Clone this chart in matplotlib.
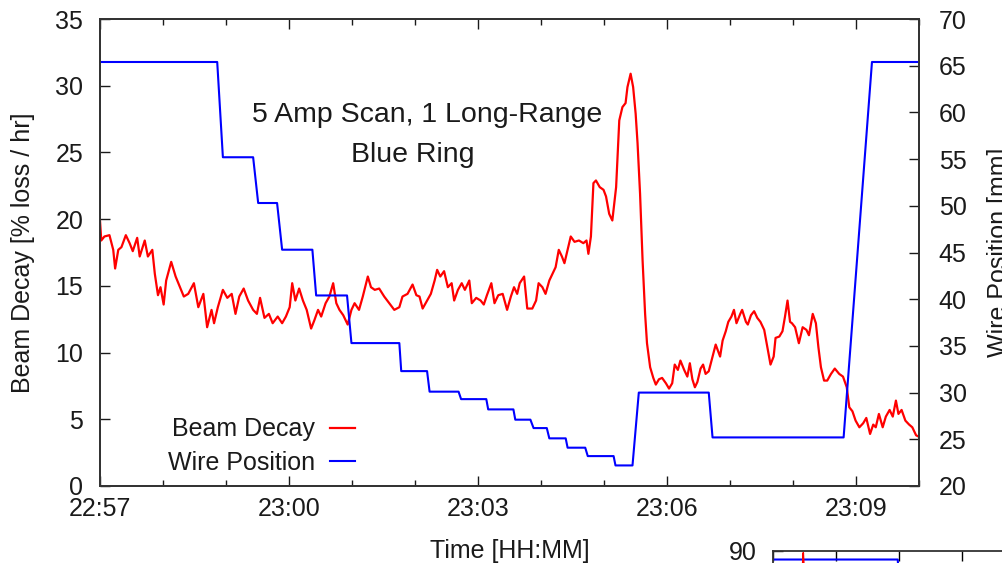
import matplotlib
matplotlib.use("Agg")
import matplotlib.pyplot as plt
from matplotlib.ticker import MultipleLocator, FuncFormatter, FixedLocator

plt.rcParams['font.family'] = ['Liberation Sans', 'DejaVu Sans']

# time in minutes after 22:57
decay_t = [0.00, 0.02, 0.07, 0.15, 0.21, 0.24, 0.29, 0.34, 0.41, 0.47, 0.52, 0.59, 0.63, 0.71, 0.76,
           0.83, 0.87, 0.92, 0.96, 1.01, 1.05, 1.13, 1.20, 1.27, 1.33, 1.40, 1.49, 1.56, 1.64, 1.70,
           1.77, 1.81, 1.87, 1.95, 2.02, 2.09, 2.15, 2.21, 2.28, 2.35, 2.43, 2.49, 2.54, 2.61, 2.68,
           2.74, 2.82, 2.89, 2.95, 3.01, 3.05, 3.10, 3.16, 3.22, 3.28, 3.35, 3.40, 3.46, 3.51, 3.58,
           3.64, 3.70, 3.75, 3.80, 3.86, 3.93, 3.99, 4.04, 4.11, 4.17, 4.25, 4.30, 4.36, 4.43, 4.51,
           4.59, 4.67, 4.75, 4.80, 4.88, 4.96, 5.02, 5.07, 5.12, 5.19, 5.25, 5.31, 5.35, 5.40, 5.46,
           5.52, 5.58, 5.62, 5.68, 5.74, 5.79, 5.86, 5.90, 5.97, 6.04, 6.09, 6.14, 6.21, 6.26, 6.32,
           6.39, 6.46, 6.52, 6.57, 6.62, 6.66, 6.73, 6.78, 6.86, 6.92, 6.96, 7.02, 7.07, 7.13, 7.18,
           7.23, 7.28, 7.33, 7.37, 7.42, 7.47, 7.53, 7.60, 7.67, 7.72, 7.75, 7.79, 7.83, 7.87, 7.93,
           7.99, 8.03, 8.08, 8.13, 8.19, 8.24, 8.29, 8.34, 8.37, 8.42, 8.46, 8.50, 8.53, 8.57, 8.61,
           8.65, 8.68, 8.73, 8.78, 8.82, 8.87, 8.92, 8.98, 9.03, 9.08, 9.12, 9.17, 9.21, 9.27, 9.32,
           9.36, 9.40, 9.44, 9.48, 9.53, 9.57, 9.61, 9.66, 9.72, 9.77, 9.84, 9.88, 9.93, 9.97, 10.02,
           10.06, 10.10, 10.16, 10.19, 10.25, 10.28, 10.33, 10.38, 10.43, 10.48, 10.54, 10.59, 10.64,
           10.69, 10.72, 10.78, 10.83, 10.87, 10.91, 10.95, 10.98, 11.03, 11.09, 11.15, 11.21, 11.25,
           11.31, 11.36, 11.40, 11.44, 11.49, 11.54, 11.60, 11.66, 11.73, 11.79, 11.85, 11.89, 11.94,
           11.99, 12.05, 12.11, 12.16, 12.22, 12.27, 12.31, 12.36, 12.42, 12.47, 12.53, 12.58, 12.63,
           12.67, 12.72, 12.78, 12.84, 12.89, 12.95, 12.99]
decay = [19.9, 18.4, 18.7, 18.8, 17.7, 16.3, 17.7, 17.9, 18.8, 18.2, 17.6, 18.6, 17.2, 18.4, 17.2,
         17.7, 15.9, 14.3, 14.9, 13.6, 15.4, 16.8, 15.7, 14.9, 14.2, 14.4, 15.2, 13.4, 14.4, 11.9,
         13.2, 12.2, 13.4, 14.7, 14.1, 14.4, 12.9, 14.2, 14.8, 13.9, 13.2, 12.9, 14.1, 12.6, 12.9,
         12.2, 12.7, 12.2, 12.7, 13.4, 15.2, 13.9, 14.8, 13.9, 13.2, 11.8, 12.4, 13.2, 12.7, 13.7,
         14.2, 15.2, 13.7, 13.2, 12.8, 12.1, 13.2, 13.7, 13.2, 14.2, 15.7, 14.9, 14.7, 14.8, 14.2,
         13.7, 13.2, 13.4, 14.2, 14.4, 15.1, 14.3, 14.2, 13.3, 13.9, 14.4, 15.4, 16.2, 15.7, 16.1,
         14.9, 15.2, 13.9, 14.7, 15.2, 14.7, 15.4, 13.7, 14.1, 13.9, 13.6, 14.3, 15.2, 13.7, 14.3,
         14.4, 13.2, 14.2, 14.9, 14.4, 15.2, 15.7, 13.3, 13.3, 13.9, 15.2, 14.9, 14.4, 15.4, 15.9,
         16.4, 17.7, 17.2, 16.7, 17.7, 18.7, 18.3, 18.4, 18.2, 18.4, 17.4, 18.7, 22.7, 22.9, 22.4,
         22.2, 21.7, 20.4, 19.9, 22.4, 27.4, 28.4, 28.7, 29.9, 30.9, 29.9, 27.9, 25.7, 21.9, 16.9,
         12.9, 10.7, 8.9, 8.1, 7.6, 8.0, 8.1, 7.7, 7.3, 7.7, 9.1, 8.7, 9.4, 8.7, 8.2,
         9.2, 8.0, 7.4, 7.8, 8.8, 9.1, 8.4, 8.6, 9.7, 10.6, 9.7, 10.9, 11.6, 12.3, 12.7,
         13.2, 12.2, 12.9, 13.2, 12.3, 12.1, 12.8, 13.1, 12.6, 12.3, 11.7, 10.4, 9.1,
         9.7, 11.1, 11.2, 11.6, 12.7, 13.9, 12.3, 12.2, 11.9, 10.7, 11.9, 11.7, 11.3,
         12.9, 12.2, 10.4, 8.9, 7.9, 7.9, 8.4, 8.8, 8.4, 8.2, 7.4, 5.9, 5.6,
         4.9, 4.4, 4.7, 5.1, 3.9, 4.6, 4.4, 5.4, 4.4, 5.2, 5.7, 5.2, 6.4,
         5.4, 5.7, 4.9, 4.6, 4.4, 3.8, 3.7]

wire_t = [0.00, 1.86, 1.95, 2.43, 2.51, 2.81, 2.89, 3.37, 3.43, 3.92, 3.99, 4.75, 4.78, 5.19,
          5.23, 5.69, 5.73, 6.13, 6.16, 6.56, 6.59, 6.83, 6.88, 7.09, 7.13, 7.39, 7.42, 7.70,
          7.74, 8.15, 8.18, 8.45, 8.55, 9.66, 9.72, 11.80, 12.25, 13.00]
wire_mm = [65.4, 65.4, 55.2, 55.2, 50.3, 50.3, 45.3, 45.3, 40.4, 40.4, 35.3, 35.3, 32.3, 32.3,
           30.1, 30.1, 29.3, 29.3, 28.2, 28.2, 27.1, 27.1, 26.2, 26.2, 25.1, 25.1, 24.1, 24.1,
           23.2, 23.2, 22.2, 22.2, 30.0, 30.0, 25.2, 25.2, 65.4, 65.4]

# the next figure on the page, only its top edge shows
next_wire_t = [0.00, 1.98, 2.02]
next_wire = [88.3, 88.3, 80.0]
next_decay_t = [0.44, 0.48, 0.52]
next_decay = [80.0, 89.6, 80.0]

start_hour, start_min = 22, 57
fs = 18
ink = '#1a1a1a'


def hhmm(m, pos=None):
    total = start_hour * 60 + start_min + int(round(m))
    return '%02d:%02d' % ((total // 60) % 24, total % 60)


def style_spines(a):
    for s in a.spines.values():
        s.set_linewidth(1.3)
        s.set_color('#333333')


fig = plt.figure(figsize=(10.02, 5.63), dpi=100)
ax = fig.add_axes([0.0998, 0.1368, 0.8176, 0.8294])
ax2 = ax.twinx()

l1, = ax.plot(decay_t, decay, color='#ff0000', lw=1.6, label='Beam Decay')
l2, = ax2.plot(wire_t, wire_mm, color='#0000ff', lw=1.5, label='Wire Position')

ax.set_xlim(0, 13)
ax.set_ylim(0, 35)
ax2.set_ylim(20, 70)

ax.xaxis.set_major_locator(MultipleLocator(3))
ax.xaxis.set_minor_locator(MultipleLocator(1))
ax.xaxis.set_major_formatter(FuncFormatter(hhmm))
ax.yaxis.set_major_locator(MultipleLocator(5))
ax2.yaxis.set_major_locator(MultipleLocator(5))

ax.tick_params(axis='x', which='both', direction='in', top=True, bottom=True,
               labelsize=fs, colors=ink, pad=8)
ax.tick_params(axis='x', which='major', length=7, width=1)
ax.tick_params(axis='x', which='minor', length=4, width=1)
ax.tick_params(axis='y', which='major', direction='in', left=True, right=False,
               length=7, width=1, labelsize=fs, colors=ink, pad=12)
ax2.tick_params(axis='y', which='major', direction='in', right=True, length=7, width=1,
                labelsize=fs, colors=ink, pad=14)
style_spines(ax)
style_spines(ax2)

ax.set_xlabel('Time [HH:MM]', fontsize=fs, color=ink)
ax.xaxis.set_label_coords(0.5, -0.113)
ax.set_ylabel('Beam Decay [% loss / hr]', fontsize=fs, color=ink)
ax.yaxis.set_label_coords(-0.079, 0.5)
ax2.set_ylabel('Wire Position [mm]', fontsize=fs, color=ink)
ax2.yaxis.set_label_coords(1.083, 0.5)

ax.text(0.399, 0.779, '5 Amp Scan, 1 Long-Range', transform=ax.transAxes,
        ha='center', va='baseline', fontsize=20.5, color=ink)
ax.text(0.382, 0.694, 'Blue Ring', transform=ax.transAxes,
        ha='center', va='baseline', fontsize=20.5, color=ink)

ax.legend(handles=[l1, l2], loc='lower right', bbox_to_anchor=(0.311, 0.024),
          frameon=False, markerfirst=False, fontsize=fs, handlelength=1.0,
          handletextpad=0.6, labelspacing=0.38, borderpad=0, borderaxespad=0,
          labelcolor=ink)

# fragment of the following plot at the bottom right
frag = fig.add_axes([773 / 1002, (563 - 550.7 - 467) / 563, 819 / 1002, 467 / 563])
frag.plot(next_wire_t, next_wire, color='#0000ff', lw=1.5)
frag.plot(next_decay_t, next_decay, color='#ff0000', lw=1.2)
frag.set_xlim(0, 13)
frag.set_ylim(0, 90)
frag.xaxis.set_major_locator(MultipleLocator(3))
frag.xaxis.set_minor_locator(MultipleLocator(1))
frag.yaxis.set_major_locator(FixedLocator([90]))
frag.tick_params(axis='x', which='both', direction='in', top=True, labelbottom=False)
frag.tick_params(axis='x', which='major', length=7, width=1)
frag.tick_params(axis='x', which='minor', length=7, width=1)
frag.tick_params(axis='y', direction='in', length=7, width=1, labelsize=fs,
                 colors=ink, pad=12)
style_spines(frag)

fig.savefig('out.png', dpi=100)
